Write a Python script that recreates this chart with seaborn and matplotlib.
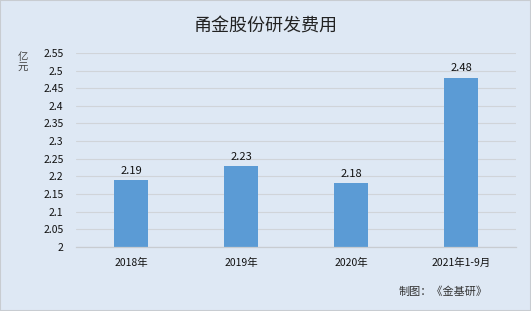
import matplotlib
matplotlib.use("Agg")
import matplotlib.pyplot as plt
import seaborn as sns
import pandas as pd

categories = ["2018年", "2019年", "2020年", "2021年1-9月"]
values = [2.19, 2.23, 2.18, 2.48]
yticks = [2, 2.05, 2.1, 2.15, 2.2, 2.25, 2.3, 2.35, 2.4, 2.45, 2.5, 2.55]
ytick_labels = ["2", "2.05", "2.1", "2.15", "2.2", "2.25", "2.3", "2.35", "2.4", "2.45", "2.5", "2.55"]

sns.set_theme(style="white")
plt.rcParams['font.family'] = ['Noto Sans CJK SC', 'DejaVu Sans']

bg = "#DEE8F4"
fig = plt.figure(figsize=(5.31, 3.11), dpi=100, facecolor=bg)
ax = fig.add_axes([0.143, 0.206, 0.829, 0.624])
ax.set_facecolor(bg)

df = pd.DataFrame({"cat": categories, "val": values})
sns.barplot(data=df, x="cat", y="val", color="#5B9BD5", saturation=1, width=0.31,
            linewidth=0, edgecolor="none", ax=ax)

ax.set_ylim(2, 2.55)
ax.set_yticks(yticks)
ax.set_yticklabels(ytick_labels)
ax.yaxis.grid(True, color="#D0D4D9", linewidth=0.8)
ax.set_axisbelow(True)
for s in ["top", "right", "left"]:
    ax.spines[s].set_visible(False)
ax.spines["bottom"].set_color("#C8CCD1")
ax.spines["bottom"].set_linewidth(0.9)
ax.tick_params(axis="both", length=0, labelsize=7.5, colors="#111111")
ax.tick_params(axis="y", pad=9)
ax.tick_params(axis="x", pad=8)
ax.set_xlabel("")
ax.set_ylabel("")

for i, v in enumerate(values):
    ax.text(i, v + 0.012, f"{v:.2f}", ha="center", va="bottom", fontsize=8, color="#111111")

fig.text(0.5, 0.913, "甬金股份研发费用", ha="center", va="center", fontsize=13, color="#222222")
fig.text(0.043, 0.80, "亿\n元", ha="center", va="center", fontsize=7.5, color="#444444", linespacing=1.1)
fig.text(0.750, 0.062, "制图：《金基研》", ha="left", va="center", fontsize=8, color="#333333")

border = plt.Rectangle((0, 0), 1, 1, transform=fig.transFigure, fill=False, edgecolor="#C8CCD1", linewidth=1.5)
fig.patches.append(border)

fig.savefig("out.png", dpi=100, facecolor=bg)
